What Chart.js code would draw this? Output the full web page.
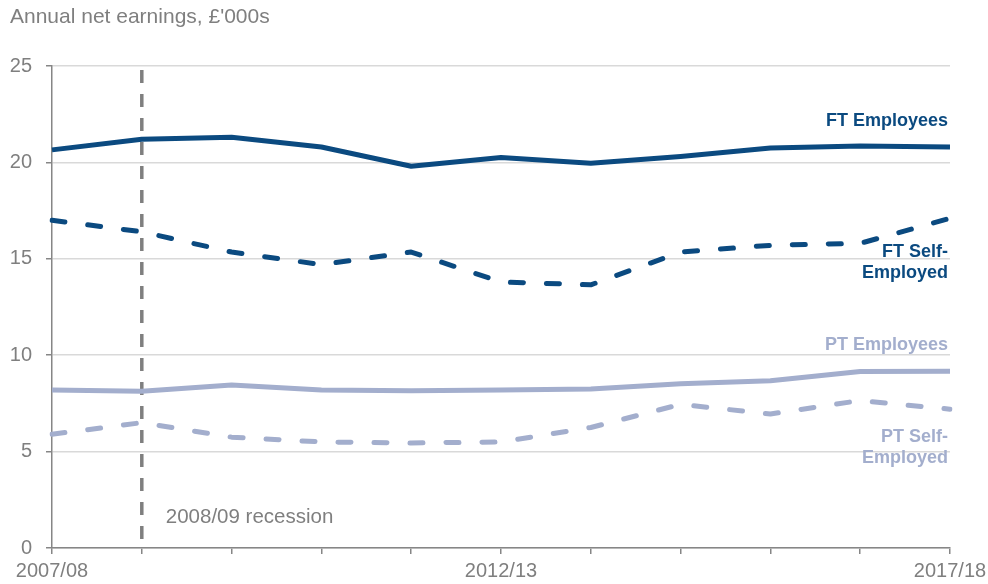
<!DOCTYPE html>
<html>
<head>
<meta charset="utf-8">
<script src="https://cdn.jsdelivr.net/npm/chart.js@4.4.0/dist/chart.umd.min.js"></script>
<style>
    body { margin: 0; background: #ffffff; }
    #wrap { width: 988px; height: 584px; position: relative; }
</style>
</head>
<body>
<div id="wrap"><canvas id="chart"></canvas></div>
<script>
// Data
const years = ['2007/08', '2008/09', '2009/10', '2010/11', '2011/12', '2012/13',
    '2013/14', '2014/15', '2015/16', '2016/17', '2017/18'];
const shownYears = ['2007/08', '2012/13', '2017/18']; // only these get a label
const ftEmployees = [20.65, 21.2, 21.3, 20.8, 19.8, 20.25, 19.95, 20.3, 20.75, 20.85, 20.8];
const ftSelfEmployed = [17.0, 16.4, 15.35, 14.7, 15.35, 13.8, 13.65, 15.35, 15.7, 15.8, 17.1];
const ptEmployees = [8.2, 8.13, 8.45, 8.2, 8.15, 8.2, 8.25, 8.52, 8.68, 9.15, 9.17];
const ptSelfEmployed = [5.9, 6.5, 5.75, 5.5, 5.45, 5.5, 6.25, 7.45, 6.95, 7.65, 7.2];
const recessionYear = '2008/09';

const darkBlue = '#0b4a80';
const lightBlue = '#a3aecd';
const grey = '#7f7f7f';

// Draws the y title, the recession marker and the series labels
const extrasPlugin = {
    id: 'extras',
    beforeDatasetsDraw(chart) {
        const ctx = chart.ctx;
        const x = chart.scales.x.getPixelForValue(years.indexOf(recessionYear));
        const area = chart.chartArea;
        ctx.save();
        ctx.strokeStyle = '#7f7f7f';
        ctx.lineWidth = 3.5;
        ctx.setLineDash([13, 11]);
        ctx.beginPath();
        ctx.moveTo(x, area.top + 4);
        ctx.lineTo(x, area.bottom);
        ctx.stroke();
        ctx.restore();
    },
    afterDraw(chart) {
        const ctx = chart.ctx;
        const area = chart.chartArea;
        ctx.save();
        ctx.fillStyle = grey;
        ctx.font = '21px "Liberation Sans", Arial, sans-serif';
        ctx.textBaseline = 'middle';
        ctx.textAlign = 'left';
        ctx.fillText("Annual net earnings, £'000s", 10, 17);

        ctx.font = '20.5px "Liberation Sans", Arial, sans-serif';
        const rx = chart.scales.x.getPixelForValue(years.indexOf(recessionYear));
        ctx.fillText('2008/09 recession', rx + 24, 517);

        // series labels at the right edge
        const right = area.right - 2;
        ctx.textAlign = 'right';
        ctx.font = 'bold 18px "Liberation Sans", Arial, sans-serif';
        ctx.fillStyle = darkBlue;
        ctx.fillText('FT Employees', right, 121);
        ctx.fillText('FT Self-', right, 252);
        ctx.fillText('Employed', right, 273);
        ctx.fillStyle = lightBlue;
        ctx.fillText('PT Employees', right, 345);
        ctx.fillText('PT Self-', right, 437);
        ctx.fillText('Employed', right, 458);
        ctx.restore();
    }
};

function lineSet(label, data, color, dashed) {
    return {
        label: label,
        data: data,
        borderColor: color,
        borderWidth: 5,
        borderDash: dashed ? [13, 23] : [],
        borderCapStyle: dashed ? 'round' : 'butt',
        borderJoinStyle: 'round',
        pointRadius: 0,
        tension: 0,
        fill: false
    };
}

const ctx = document.getElementById('chart').getContext('2d');
new Chart(ctx, {
    type: 'line',
    data: {
        labels: years,
        datasets: [
            lineSet('FT Employees', ftEmployees, darkBlue, false),
            lineSet('FT Self-Employed', ftSelfEmployed, darkBlue, true),
            lineSet('PT Employees', ptEmployees, lightBlue, false),
            lineSet('PT Self-Employed', ptSelfEmployed, lightBlue, true)
        ]
    },
    options: {
        responsive: true,
        maintainAspectRatio: false,
        animation: false,
        layout: { padding: { top: 66, right: 38, left: 0, bottom: 0 } },
        plugins: {
            legend: { display: false },
            tooltip: { enabled: false }
        },
        scales: {
            x: {
                offset: false,
                border: { color: '#868686', width: 1.5 },
                grid: { drawOnChartArea: false, tickLength: 6, color: '#868686', lineWidth: 1.5 },
                ticks: {
                    autoSkip: false,
                    maxRotation: 0,
                    padding: 5,
                    color: grey,
                    font: { family: '"Liberation Sans", Arial, sans-serif', size: 20 },
                    callback: function (value) {
                        const lab = years[value];
                        return shownYears.includes(lab) ? lab : '';
                    }
                },
                afterFit: s => { s.height = 36; s.paddingRight = 0; s.paddingLeft = 0; }
            },
            y: {
                min: 0,
                max: 25,
                border: { color: '#868686', width: 1.5 },
                grid: { color: '#d9d9d9', lineWidth: 1.5, tickLength: 6, tickColor: '#868686' },
                ticks: {
                    stepSize: 5,
                    padding: 14,
                    color: grey,
                    font: { family: '"Liberation Sans", Arial, sans-serif', size: 20 }
                },
                afterFit: s => { s.width = 52; }
            }
        }
    },
    plugins: [extrasPlugin]
});
</script>
</body>
</html>
